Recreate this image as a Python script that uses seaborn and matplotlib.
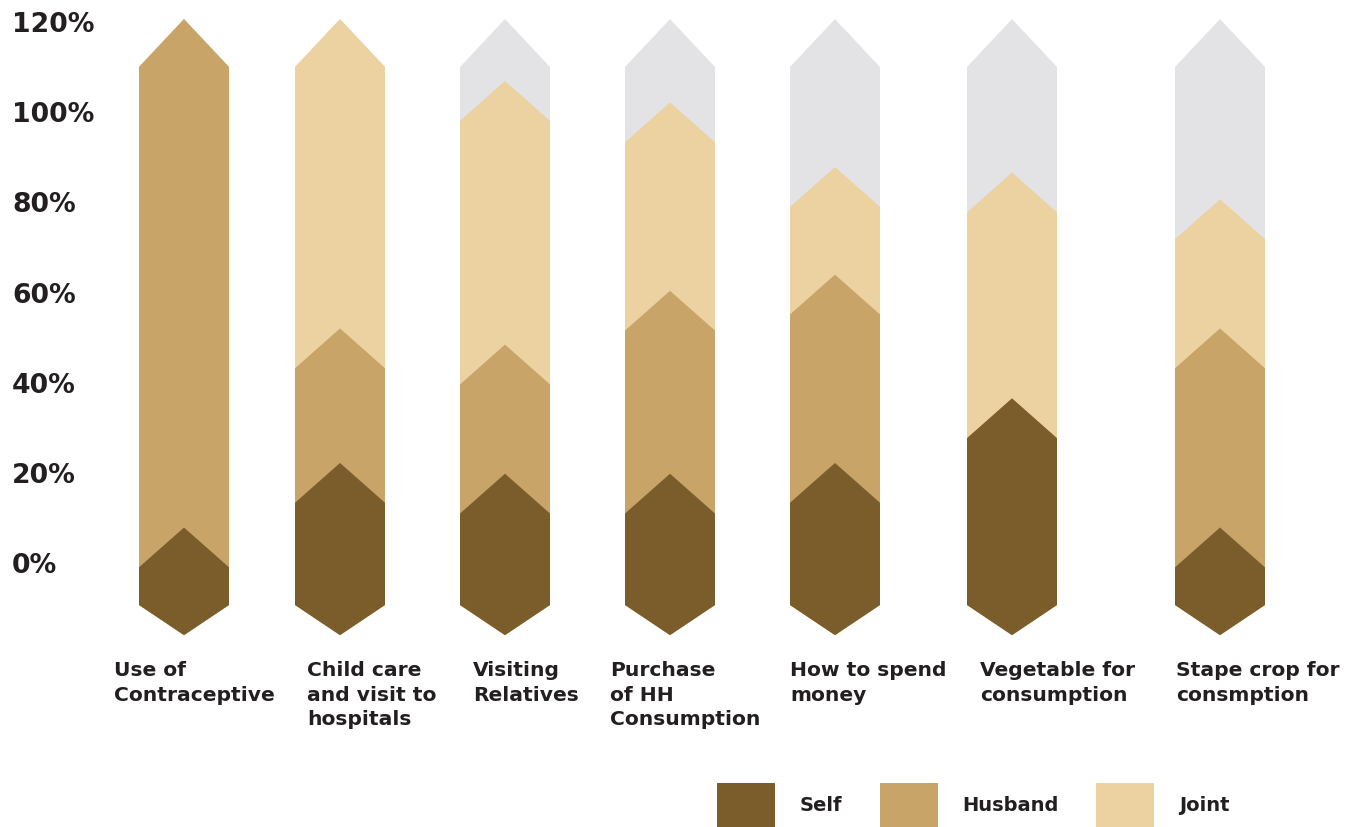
import matplotlib
matplotlib.use("Agg")
import matplotlib.pyplot as plt
import matplotlib.transforms as mtransforms
from matplotlib.patches import Patch
import numpy as np
import seaborn as sns

# ---- data -------------------------------------------------------------
categories = [
    "Use of\nContraceptive",
    "Child care\nand visit to\nhospitals",
    "Visiting\nRelatives",
    "Purchase\nof HH\nConsumption",
    "How to spend\nmoney",
    "Vegetable for\nconsumption",
    "Stape crop for\nconsmption",
]
self_pct = [7, 19, 17, 17, 19, 31, 7]
husband_pct = [93, 25, 24, 34, 35, 0, 37]
joint_pct = [0, 56, 49, 35, 20, 42, 24]
series_names = ["Self", "Husband", "Joint"]
tick_values = [0, 20, 40, 60, 80, 100, 120]

# ---- layout / style ---------------------------------------------------
W, H = 1363, 827
bar_centers = [184, 340, 505, 670, 835, 1012, 1220]
label_left = [114, 307, 473, 610, 790, 980, 1176]
bar_width = 90
cap_top = 7.4       # height of the upward chevron, in %
cap_full = 8.9      # taller chevron on a layer that reaches 100%
cap_bottom = 5.6    # depth of the downward chevron under the base, in %
px_per_pct = 5.38   # bar scale
base_px = 605       # pixel row of the bar base
tick_px_per_pct = 4.508
tick_zero_px = 563

c_self = "#7b5c2b"
c_husband = "#c8a468"
c_joint = "#ecd1a1"
c_rest = "#e3e3e5"
text_color = "#231f20"

sns.set_theme(style="white")
plt.rcParams["font.family"] = ["DejaVu Sans"]
plt.rcParams["font.weight"] = "bold"

fig = plt.figure(figsize=(W / 100, H / 100), dpi=100)
ax_left, ax_right, ax_top, ax_bottom = 110, 1300, 10, 650
ax = fig.add_axes([ax_left / W, (H - ax_bottom) / H,
                   (ax_right - ax_left) / W, (ax_bottom - ax_top) / H])

s = np.array(self_pct, dtype=float)
h = np.array(husband_pct, dtype=float)
j = np.array(joint_pct, dtype=float)

# cumulative layers, drawn from the back (100% track) to the front (self)
layers = [
    (np.full_like(s, 100.0), c_rest),
    (s + h + j, c_joint),
    (s + h, c_husband),
    (s, c_self),
]

min_gap = np.min(np.diff(sorted(bar_centers)))
half = bar_width / 2
for cum, color in layers:
    sns.barplot(x=bar_centers, y=cum, native_scale=True, orient="x",
                width=bar_width / min_gap, color=color, saturation=1,
                linewidth=0, errorbar=None, ax=ax)
    for xc, top in zip(bar_centers, cum):
        if top <= 0:
            continue
        d = cap_full if top >= 100 else cap_top
        # upward chevron on top of the layer
        ax.fill([xc - half, xc - half, xc, xc + half, xc + half],
                [top - 0.6, top, top + d, top, top - 0.6],
                color=color, lw=0)
        # downward chevron under the base
        ax.fill([xc - half, xc - half, xc, xc + half, xc + half],
                [0.6, 0, -cap_bottom, 0, 0.6],
                color=color, lw=0)

ax.set_xlim(ax_left, ax_right)
ax.set_ylim((base_px - ax_bottom) / px_per_pct, (base_px - ax_top) / px_per_pct)
ax.set_xticks([])
ax.set_yticks([])
ax.set_xlabel("")
ax.set_ylabel("")
sns.despine(ax=ax, left=True, bottom=True)

# percentage scale on the left
offset = base_px - tick_zero_px


def to_ticks(v):
    return (px_per_pct * np.asarray(v) - offset) / tick_px_per_pct


def from_ticks(t):
    return (tick_px_per_pct * np.asarray(t) + offset) / px_per_pct


secax = ax.secondary_yaxis("left", functions=(to_ticks, from_ticks))
secax.set_yticks(tick_values, labels=[f"{t}%" for t in tick_values])
secax.spines["left"].set_visible(False)
secax.tick_params(axis="y", length=0, pad=(ax_left - 12) * 0.72,
                  labelsize=19.2, labelcolor=text_color)
for lbl in secax.get_yticklabels():
    lbl.set_horizontalalignment("left")
    lbl.set_fontweight("bold")

# category labels under each bar
trans = mtransforms.blended_transform_factory(ax.transData, fig.transFigure)
for xl, name in zip(label_left, categories):
    ax.text(xl, 1 - 661 / H, name, transform=trans, ha="left", va="top",
            fontsize=14.6, fontweight="bold", color=text_color,
            linespacing=1.38, clip_on=False)

# legend
fs = 14
em = fs * 100 / 72
handles = [Patch(facecolor=c, edgecolor="none") for c in (c_self, c_husband, c_joint)]
leg = fig.legend(handles, series_names, loc="upper left",
                 bbox_to_anchor=(717 / W, 1 - 783 / H), ncol=3, frameon=False,
                 borderpad=0, borderaxespad=0, handlelength=58 / em,
                 handleheight=3.1, handletextpad=1.25, columnspacing=1.95,
                 prop={"size": fs, "weight": "bold"})
for t in leg.get_texts():
    t.set_color(text_color)

fig.savefig("out.png", dpi=100, facecolor="white")
